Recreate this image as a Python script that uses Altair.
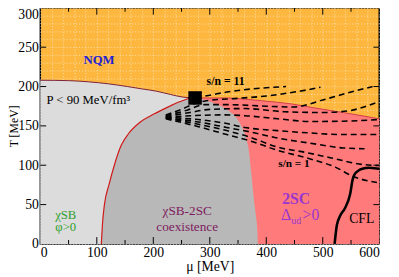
import altair as alt
import pandas as pd

# ---------------- data (mu and T in MeV) ----------------
GRAY_MU = [0, 50, 85, 120, 154, 180, 206, 230, 253, 275]
GRAY_T = [208, 207.5, 206, 203.5, 200, 197, 194, 190, 186.5, 185.5]

RED_MU = [272, 300, 333, 362, 392, 420, 444, 484, 536, 600]
RED_T = [185.5, 185.5, 185.5, 184, 182, 180, 178, 173, 167, 159]

COEX_T = [0, 25, 50, 75, 100, 125, 140, 155, 165, 175, 180, 185.5]
COEX_LEFT = [108, 110, 113.5, 121.5, 131, 143, 156, 177, 201, 229, 244, 265]
COEX_RIGHT = [385, 383.5, 379, 375.5, 372, 367.5, 362, 352, 341, 320, 303, 280]

CFL_MU = [521, 525, 531, 539, 548.5, 553, 556, 562, 570, 582, 592, 600]
CFL_T = [0, 24, 36, 45, 63.5, 82, 88, 92.5, 95.5, 96.7, 96.3, 95.5]

CEP_MU = [274]
CEP_T = [185.5]

ISEN_NAMES = ["s11", "s10", "s8", "s6", "s5", "s4", "s3", "s2", "s1"]
ISEN_MU = [
    [275, 300, 330, 375, 435],
    [222, 250, 272, 300, 350, 400, 450, 496],
    [222, 260, 290, 330, 400, 449, 500, 545, 588],
    [222, 265, 300, 362, 432, 501, 544, 596],
    [222, 270, 320, 362, 420, 478, 536, 596],
    [222, 280, 330, 362, 420, 478, 531, 596],
    [222, 280, 330, 374, 420, 478, 536, 574],
    [222, 280, 330, 370, 420, 472, 513, 570, 600],
    [222, 280, 330, 371, 420, 478, 524, 553, 596],
]
ISEN_T = [
    [186, 189, 193, 197, 200],
    [164, 171, 178, 182.5, 185, 188, 193, 199],
    [163, 170, 177, 177, 175, 174, 183, 192, 200],
    [162, 167, 171, 172, 168, 167, 169, 180],
    [161, 163, 164, 163, 159, 155.6, 156, 158],
    [161, 158, 153, 148, 144, 141, 139, 139],
    [160, 155, 148, 142, 134.5, 128, 122, 121],
    [160, 152, 144, 136, 123, 116, 109.6, 101, 99.6],
    [159, 149, 139, 131, 119, 108, 97, 86, 78],
]

LBL_TEXT = ["NQM", "s/n = 11", "s/n = 1", "2SC",
            "P < 90 MeV/fm\u00b3", "\u03c7SB", "\u03c6>0", "\u03c7SB-2SC", "coexistence",
            "\u0394", "ud", ">0", "CFL"]
LBL_MU = [104, 328, 449, 453, 85, 45, 45, 260, 260, 435, 453, 479, 569]
LBL_T = [234, 207, 101, 57, 183, 37, 21, 42, 22, 36, 28.6, 36, 31]
LBL_BOLD = [True, True, True, True, False, False, False, False, False, False, False, False, False]
LBL_COLOR = ["#2020D8", "black", "black", "#9A35D0", "black", "#2E9E2E", "#2E9E2E",
             "#7D1B5E", "#7D1B5E", "#9A35D0", "#9A35D0", "#9A35D0", "black"]
LBL_SIZE = [13, 12, 11.5, 16, 13, 13, 13, 13.5, 13.5, 16, 10, 16, 14]

X_GRID = list(range(0, 601, 20))
Y_GRID = list(range(0, 301, 10))
X_MAJOR = [100, 200, 300, 400, 500]
X_MINOR = [50, 150, 250, 350, 450, 550]
Y_TICKS = [50, 100, 150, 200, 250]

# ---------------- chart ----------------
FONT = "Liberation Serif, Times New Roman, serif"
W, H = 346, 241

x_scale = alt.Scale(domain=[0, 600], nice=False, zero=False)
y_scale = alt.Scale(domain=[0, 300], nice=False, zero=False)

x_axis = alt.Axis(values=X_GRID, labelExpr="datum.value % 100 == 0 ? datum.label : ''",
                  ticks=False, domain=False, grid=True, gridColor="white", gridOpacity=0.55,
                  gridDash=[1, 2], gridWidth=1, labelFont=FONT, labelFontSize=14,
                  labelColor="black", labelPadding=2, labelOverlap=False,
                  title="\u03bc [MeV]", titleFont=FONT, titleFontSize=14,
                  titleFontWeight="normal", titleColor="black", titlePadding=0)
y_axis = alt.Axis(values=Y_GRID, labelExpr="datum.value % 50 == 0 ? datum.label : ''",
                  ticks=False, domain=False, grid=True, gridColor="white", gridOpacity=0.55,
                  gridDash=[1, 2], gridWidth=1, labelFont=FONT, labelFontSize=14,
                  labelColor="black", labelPadding=2, labelOverlap=False,
                  labelBaseline=alt.condition("datum.value == 300", alt.value("top"),
                                              alt.value("middle")),
                  title="T [MeV]", titleFont=FONT, titleFontSize=12,
                  titleFontWeight="normal", titleColor="black",
                  titleX=-23, titleBaseline="alphabetic")


def X(field="mu"):
    return alt.X(f"{field}:Q", scale=x_scale, axis=x_axis)


def Y(field="T"):
    return alt.Y(f"{field}:Q", scale=y_scale, axis=y_axis)


gray_df = pd.DataFrame({"mu": GRAY_MU, "T": GRAY_T})
red_df = pd.DataFrame({"mu": RED_MU, "T": RED_T})
coex_df = pd.DataFrame({"T": COEX_T, "mu": COEX_LEFT, "mu2": COEX_RIGHT})
cfl_df = pd.DataFrame({"mu": CFL_MU, "T": CFL_T, "i": range(len(CFL_MU))})
cep_df = pd.DataFrame({"mu": CEP_MU, "T": CEP_T})

rows = []
for name, mus, ts in zip(ISEN_NAMES, ISEN_MU, ISEN_T):
    for i, (m, t) in enumerate(zip(mus, ts)):
        rows.append({"name": name, "mu": m, "T": t, "i": i})
isen_df = pd.DataFrame(rows)

lbl_df = pd.DataFrame({"text": LBL_TEXT, "mu": LBL_MU, "T": LBL_T, "bold": LBL_BOLD,
                       "color": LBL_COLOR, "size": LBL_SIZE})

gray = alt.Chart(gray_df).mark_area(color="#DCDCDC", interpolate="monotone").encode(
    x=X(), y=Y(), y2=alt.datum(0))
red = alt.Chart(red_df).mark_area(color="#FF7B7B", interpolate="monotone").encode(
    x=X(), y=Y(), y2=alt.datum(0))
coex = alt.Chart(coex_df).mark_area(color="#B8B8B8", orient="horizontal",
                                    interpolate="monotone").encode(
    y=Y(), x=X(), x2="mu2:Q")

gray_line = alt.Chart(gray_df).mark_line(color="#7A1F3A", strokeWidth=1,
                                         interpolate="monotone").encode(x=X(), y=Y())
red_line = alt.Chart(red_df).mark_line(color="#D23C46", strokeWidth=1,
                                       interpolate="monotone").encode(x=X(), y=Y())
coex_line = alt.Chart(coex_df).mark_line(color="#D01818", strokeWidth=1.2,
                                         interpolate="monotone").encode(
    x=X(), y=Y(), order="T:Q")

isen = alt.Chart(isen_df).mark_line(color="black", strokeWidth=1.6, strokeDash=[6, 4],
                                    interpolate="monotone").encode(
    x=X(), y=Y(), detail="name:N", order="i:Q")

cfl = alt.Chart(cfl_df).mark_line(color="black", strokeWidth=2.6,
                                  interpolate="monotone").encode(
    x=X(), y=Y(), order="i:Q")

cep = alt.Chart(cep_df).mark_square(size=190, color="black", opacity=1, filled=True).encode(
    x=X(), y=Y())

txt_bold = alt.Chart(lbl_df).transform_filter("datum.bold").mark_text(
    font=FONT, fontWeight="bold", align="center", baseline="middle").encode(
    x=X(), y=Y(), text="text:N", color=alt.Color("color:N", scale=None),
    size=alt.Size("size:Q", scale=None))
txt_norm = alt.Chart(lbl_df).transform_filter("!datum.bold").mark_text(
    font=FONT, align="center", baseline="middle").encode(
    x=X(), y=Y(), text="text:N", color=alt.Color("color:N", scale=None),
    size=alt.Size("size:Q", scale=None))

xmaj_df = pd.DataFrame({"mu": X_MAJOR})
xmin_df = pd.DataFrame({"mu": X_MINOR})
yt_df = pd.DataFrame({"T": Y_TICKS})

ticks = [
    alt.Chart(xmaj_df).mark_rule(color="black", strokeWidth=1).encode(
        x=X(), y=alt.value(H), y2=alt.value(H - 7)),
    alt.Chart(xmin_df).mark_rule(color="black", strokeWidth=1).encode(
        x=X(), y=alt.value(H), y2=alt.value(H - 4)),
    alt.Chart(xmaj_df).mark_rule(color="black", strokeWidth=1).encode(
        x=X(), y=alt.value(0), y2=alt.value(7)),
    alt.Chart(xmin_df).mark_rule(color="black", strokeWidth=1).encode(
        x=X(), y=alt.value(0), y2=alt.value(4)),
    alt.Chart(yt_df).mark_rule(color="black", strokeWidth=1).encode(
        y=Y(), x=alt.value(0), x2=alt.value(6)),
    alt.Chart(yt_df).mark_rule(color="black", strokeWidth=1).encode(
        y=Y(), x=alt.value(W), x2=alt.value(W - 6)),
]

chart = alt.layer(gray, red, coex, gray_line, red_line, coex_line, isen, cfl, cep,
                  txt_bold, txt_norm, *ticks).properties(
    width=W, height=H,
    autosize=alt.AutoSizeParams(type="none"),
    padding={"left": 33, "top": -3, "right": 12, "bottom": 35},
).configure_view(fill="#FDB73E", stroke="black", strokeWidth=1.5)

chart.save("out.html", embed_options={"renderer": "svg", "actions": False})
